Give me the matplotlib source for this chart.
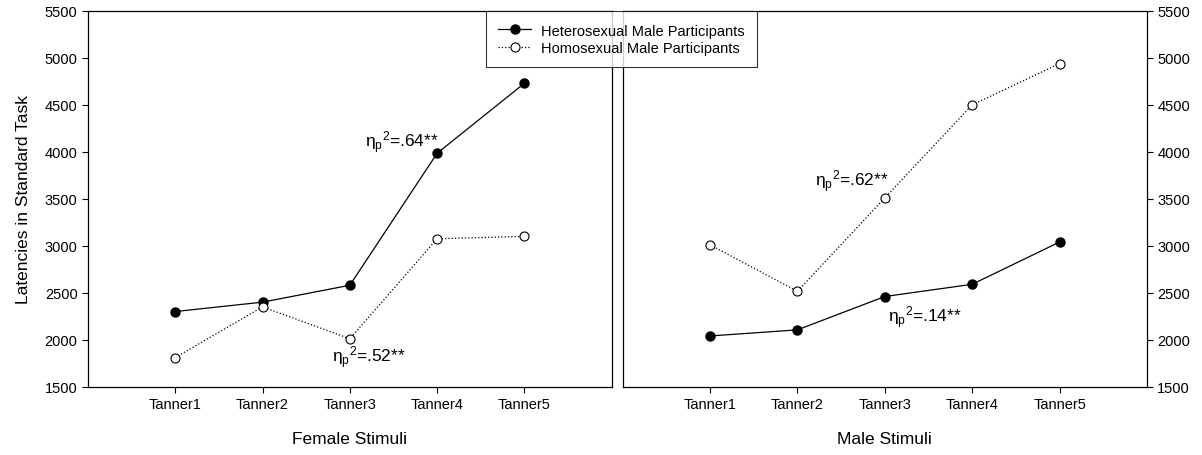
import matplotlib

matplotlib.use("Agg")
import matplotlib.pyplot as plt

plt.rcParams["font.family"] = ["Liberation Sans", "DejaVu Sans"]
plt.rcParams["mathtext.fontset"] = "custom"
plt.rcParams["mathtext.rm"] = "Liberation Sans"
plt.rcParams["mathtext.it"] = "Liberation Sans"

# Dados
tanner = ["Tanner1", "Tanner2", "Tanner3", "Tanner4", "Tanner5"]
pos = [1, 2, 3, 4, 5]
fem_hetero = [2300, 2400, 2580, 3985, 4730]
fem_homo = [1810, 2350, 2010, 3075, 3100]
male_hetero = [2040, 2105, 2460, 2590, 3040]
male_homo = [3010, 2515, 3510, 4500, 4940]
yticks = [1500, 2000, 2500, 3000, 3500, 4000, 4500, 5000, 5500]

FS = 10.5
LFS = 12.5
fig = plt.figure(figsize=(12.02, 4.56), dpi=100)
ax1 = fig.add_axes([0.0732, 0.1498, 0.4357, 0.824])
ax2 = fig.add_axes([0.518, 0.1498, 0.4362, 0.824])


def draw(ax, hetero, homo, xlabel):
    l1, = ax.plot(pos, hetero, "-", color="black", lw=0.9, marker="o",
                  ms=6.5, mfc="black", mec="black",
                  label="Heterosexual Male Participants")
    l2, = ax.plot(pos, homo, ":", color="black", lw=0.9, marker="o",
                  ms=6.5, mfc="white", mec="black", mew=0.8,
                  label="Homosexual Male Participants")
    ax.set_xlim(0, 6)
    ax.set_ylim(1500, 5500)
    ax.set_xticks(pos)
    ax.set_xticklabels(tanner, fontsize=FS)
    ax.set_yticks(yticks)
    ax.set_xlabel(xlabel, fontsize=LFS, labelpad=14)
    ax.tick_params(direction="out", length=4, width=0.8, labelsize=FS)
    for s in ax.spines.values():
        s.set_linewidth(0.9)
    return l1, l2


l1, l2 = draw(ax1, fem_hetero, fem_homo, "Female Stimuli")
draw(ax2, male_hetero, male_homo, "Male Stimuli")
ax1.set_ylabel("Latencies in Standard Task", fontsize=LFS, labelpad=10)
ax2.yaxis.tick_right()
ax2.tick_params(axis="y", which="both", left=False, right=True)

ann = dict(fontsize=12.5, ha="left", va="center")
ax1.text(3.17, 4110, r"$\eta_{p}{}^{2}$=.64**", **ann)
ax1.text(2.8, 1820, r"$\eta_{p}{}^{2}$=.52**", **ann)
ax2.text(2.2, 3690, r"$\eta_{p}{}^{2}$=.62**", **ann)
ax2.text(3.04, 2240, r"$\eta_{p}{}^{2}$=.14**", **ann)

leg = fig.legend(handles=[l1, l2], loc="upper left",
                 bbox_to_anchor=(0.404, 0.974), fontsize=FS,
                 frameon=True, fancybox=False, edgecolor="black",
                 handlelength=2.25, borderpad=0.87, handletextpad=0.68,
                 labelspacing=0.22, borderaxespad=0)
leg.get_frame().set_linewidth(0.8)

fig.savefig("out.png", dpi=100)
